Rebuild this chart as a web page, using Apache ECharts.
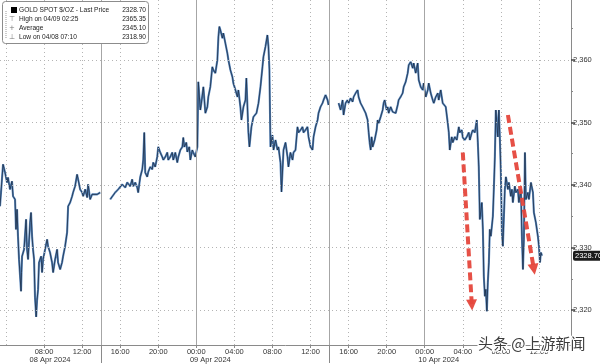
<!DOCTYPE html>
<html><head><meta charset="utf-8">
<script src="https://cdn.jsdelivr.net/npm/echarts@6/dist/echarts.min.js"></script>
<style>html,body{margin:0;padding:0;background:#fff}#c{width:600px;height:364px}</style>
</head><body><div id="c"></div>
<script>
// hours since 2024-04-08 00:00 and GOLD SPOT prices, one pair of arrays per session
const s1Hours = [3.37,3.69,3.90,4.11,4.21, 4.42,4.63,4.74,4.95,5.05, 5.16,5.26,5.37,5.58,5.63, 5.69,5.90,6.11,6.21,6.32,
  6.53,6.63,6.74,6.84,6.95, 7.05,7.17,7.26,7.37,7.47, 7.69,7.79,7.90,8.11,8.32, 8.42,8.63,8.84,8.95,9.16,
  9.37,9.47,9.69,9.89,10.00, 10.21,10.42,10.53,10.74,10.95, 11.05,11.26,11.47,11.58,11.79, 12.00,12.11,12.32,12.53,12.63,
  12.84,13.05,13.16,13.58,13.90];
const s1Prices = [2336.6,2343.3,2342.0,2340.4,2341.2, 2339.3,2340.6,2338.2,2337.7,2332.9, 2336.1,2331.8,2328.1,2323.0,2326.0, 2328.6,2329.7,2334.5,2329.7,2328.1,
  2334.0,2335.6,2331.8,2329.7,2328.1, 2322.0,2318.9,2321.5,2323.3,2327.6, 2328.6,2326.0,2328.1,2329.7,2331.3, 2330.2,2329.2,2327.6,2326.0,2328.1,
  2329.7,2327.6,2326.5,2327.6,2328.6, 2330.2,2332.4,2336.6,2337.2,2338.2, 2338.8,2339.8,2341.7,2340.9,2339.3, 2338.8,2338.2,2339.3,2338.0,2340.1,
  2337.7,2338.5,2338.8,2338.5,2338.8];
const s2Hours = [14.95,15.16,15.47,15.79,16.21, 16.53,16.74,17.05,17.26,17.37, 17.58,17.79,17.89,18.11,18.32, 18.42,18.53,18.63,18.84,18.95,
  19.16,19.37,19.47,19.68,19.89, 20.00,20.21,20.42,20.53,20.74, 20.95,21.05,21.26,21.47,21.58, 21.79,22.00,22.11,22.32,22.53,
  22.63,22.74,22.95,23.05,23.26, 23.37,23.58,23.68,23.89,24.11, 24.21,24.42,24.53,24.74,24.95, 25.16,25.26,25.47,25.68,25.79,
  26.00,26.21,26.32,26.42,26.53, 26.74,26.84,27.05,27.26,27.37, 27.58,27.79,27.89,28.11,28.32, 28.42,28.63,28.74,28.95,29.16,
  29.26,29.47,29.58,29.79,30.00, 30.32,30.53,30.74,30.95,31.05, 31.26,31.47,31.58,31.68,31.79, 32.00,32.11,32.32,32.53,32.63,
  32.84,32.95,33.16,33.37,33.58, 33.68,33.89,34.11,34.21,34.42, 34.63,34.74,34.95,35.16,35.26, 35.47,35.68,35.79,36.00,36.21,
  36.32,36.53,36.74,36.84,37.05, 37.26,37.37,37.58,37.79,37.89];
const s2Prices = [2337.7,2338.0,2338.8,2339.3,2340.1, 2339.6,2340.4,2339.8,2340.9,2339.8, 2340.4,2339.6,2338.8,2341.3,2342.5, 2344.0,2348.4,2342.0,2341.3,2342.1,
  2342.9,2342.5,2343.6,2342.9,2344.5, 2346.1,2345.2,2344.5,2344.0,2344.5, 2345.2,2344.0,2344.5,2345.2,2344.0, 2345.2,2343.6,2344.5,2345.6,2346.1,
  2347.6,2346.1,2346.8,2345.3,2346.1, 2344.0,2345.6,2345.2,2344.5,2346.1, 2356.5,2352.0,2353.1,2355.7,2351.5, 2352.5,2354.1,2355.7,2358.9,2358.4,
  2357.9,2360.0,2363.7,2365.35,2364.8, 2363.5,2364.3,2362.7,2361.1,2360.0, 2358.4,2357.3,2356.3,2355.2,2354.1, 2355.2,2352.5,2350.4,2352.5,2353.6,
  2357.1,2348.4,2346.1,2349.3,2350.9, 2351.5,2353.1,2355.7,2358.9,2360.5, 2362.1,2364.0,2362.1,2358.4,2346.1, 2348.0,2345.6,2347.2,2345.6,2346.1,
  2343.6,2338.9,2345.6,2346.8,2344.5, 2342.9,2345.2,2344.0,2345.2,2345.6, 2349.3,2348.4,2348.8,2349.3,2348.4, 2348.8,2349.3,2347.7,2346.1,2345.6,
  2347.7,2349.3,2350.4,2351.5,2352.5, 2353.1,2353.6,2354.4,2353.6,2352.8];
const s3Hours = [38.95,39.16,39.37,39.47,39.68, 39.89,40.00,40.21,40.42,40.53, 40.74,40.95,41.05,41.26,41.47, 41.58,41.79,42.00,42.11,42.21,
  42.32,42.42,42.53,42.74,42.95, 43.05,43.16,43.37,43.58,43.68, 43.79,44.00,44.11,44.21,44.42, 44.63,44.74,44.95,45.16,45.26,
  45.47,45.68,45.79,46.00,46.21, 46.32,46.53,46.74,46.84,47.05, 47.26,47.37,47.58,47.79,47.89, 48.11,48.32,48.42,48.63,48.84,
  48.95,49.16,49.37,49.47,49.68, 49.89,50.21,50.42,50.53,50.63, 50.84,50.95,51.16,51.37,51.58, 51.68,51.89,52.00,52.21,52.42,
  52.63,52.74,52.95,53.05,53.26, 53.47,53.58,53.68,53.79,54.00, 54.11,54.21,54.32,54.42,54.53, 54.63,54.74,54.84,54.95,55.16,
  55.26,55.37,55.47,55.58,55.68, 55.79,55.89,56.00,56.11,56.21, 56.32,56.42,56.53,56.63,56.74, 56.84,57.05,57.16,57.26,57.47,
  57.58,57.79,57.89,58.11,58.21, 58.32,58.42,58.53,58.63,58.84, 58.95,59.16,59.37,59.47,59.68, 59.89,60.00,60.11,60.21,60.32];
const s3Prices = [2353.1,2352.0,2353.6,2351.2,2353.1, 2353.6,2353.1,2353.9,2353.3,2354.1, 2354.7,2355.2,2354.1,2353.1,2352.5, 2352.3,2351.5,2350.4,2348.4,2346.8,
  2345.6,2347.7,2346.1,2347.2,2348.8, 2350.4,2349.9,2350.9,2352.0,2353.1, 2353.6,2352.0,2352.5,2351.5,2352.5, 2351.7,2352.0,2351.5,2352.8,2353.6,
  2354.1,2354.7,2355.7,2356.5,2357.9, 2359.2,2359.7,2358.7,2359.5,2357.9, 2359.5,2356.8,2355.7,2355.2,2356.3, 2354.1,2355.2,2356.3,2354.7,2353.6,
  2353.1,2354.1,2354.7,2353.6,2355.2, 2353.1,2352.5,2349.9,2348.4,2345.6, 2347.7,2346.8,2347.7,2347.2,2349.3, 2348.4,2348.8,2347.6,2347.2,2347.7,
  2348.4,2347.2,2348.4,2348.8,2348.4, 2350.4,2346.8,2342.9,2334.5,2337.2, 2332.9,2325.4,2322.2,2323.3,2319.8, 2324.4,2327.6,2332.9,2331.8,2335.0,
  2339.3,2344.5,2352.0,2349.9,2347.7, 2352.0,2347.7,2342.0,2332.4,2330.2, 2335.0,2339.3,2341.3,2340.4,2339.3, 2340.4,2338.2,2339.3,2337.2,2339.8,
  2338.8,2339.3,2337.2,2339.3,2331.8, 2326.5,2331.3,2345.2,2337.7,2338.8, 2337.7,2340.4,2338.8,2335.6,2334.0, 2331.8,2330.2,2327.6,2329.2,2328.7];

const timeTicks = [8,12,16,20,24,28,32,36,40,44,48,52,56,60];
const dottedTimeGrid = [4,8,12,16,20,28,32,36,40,44,52,56,60];
const solidTimeGrid = [14,24,38,48];
const sessionBreaks = [14,38];
const dateLabelHours = [8.63,25.47,49.47];
const dateLabels = ['08 Apr 2024','09 Apr 2024','10 Apr 2024'];
const priceTicks = [2320,2330,2340,2350,2360];
const minorPriceTicks = [2315,2325,2335,2345,2355,2365];
const lastPrice = 2328.70;
const legendLabels = ['GOLD SPOT $/OZ - Last Price','High on 04/09 02:25','Average','Low on 04/08 07:10'];
const legendValues = ['2328.70','2365.35','2345.10','2318.90'];
const arrowStarts = [[52.00,2345.2],[56.74,2351.2]];
const arrowEnds = [[52.95,2320.8],[59.47,2326.5]];

const X_MIN = 3.37, X_MAX = 63.37, Y_MIN = 2314.4, Y_MAX = 2369.6;

const sessions = [[s1Hours,s1Prices],[s2Hours,s2Prices],[s3Hours,s3Prices]];
const lineData = [];
sessions.forEach((s,i)=>{
  if(i>0){ lineData.push([(sessions[i-1][0][sessions[i-1][0].length-1]+s[0][0])/2,'-']); }
  s[0].forEach((h,j)=>lineData.push([h,s[1][j]]));
});

const FONT = 'Liberation Sans';
const pad2 = n => (n<10?'0':'')+n;

const gridLines = [];
priceTicks.forEach(v=>gridLines.push({yAxis:v,lineStyle:{color:'#b4b4b4',type:[1,3],width:1}}));
dottedTimeGrid.forEach(v=>gridLines.push({xAxis:v,lineStyle:{color:'#b4b4b4',type:[1,3],width:1}}));
solidTimeGrid.forEach(v=>gridLines.push({xAxis:v,lineStyle:{color:'#a6a6a6',type:'solid',width:1}}));

const legendGraphics = [{type:'rect',shape:{x:2.5,y:1.5,width:146,height:42,r:3},style:{fill:'#fff',stroke:'#8c8c8c',lineWidth:1},z:100}];
const rowY = [10,19.5,28.5,37.5];
legendLabels.forEach((t,i)=>{
  legendGraphics.push({type:'text',x:19,y:rowY[i],style:{text:t,fill:'#222',font:'6.6px "'+FONT+'"',textVerticalAlign:'middle'},z:101});
  legendGraphics.push({type:'text',x:146,y:rowY[i],style:{text:legendValues[i],fill:'#222',font:'6.6px "'+FONT+'"',textAlign:'right',textVerticalAlign:'middle'},z:101});
});
legendGraphics.push({type:'rect',shape:{x:11,y:7,width:6,height:6},style:{fill:'#000'},z:101});
legendGraphics.push({type:'line',shape:{x1:6,y1:11,x2:6,y2:38},style:{stroke:'#999',lineDash:[1,1],lineWidth:1},z:101});
['⊤','+','⊥'].forEach((g,i)=>legendGraphics.push({type:'text',x:12,y:rowY[i+1],style:{text:g,fill:'#777',font:'7px "DejaVu Sans"',textAlign:'center',textVerticalAlign:'middle'},z:101}));

const chart = echarts.init(document.getElementById('c'),null,{renderer:'canvas'});
chart.setOption({
  animation:false,
  backgroundColor:'#fff',
  grid:{left:0,right:29,top:0,bottom:18,containLabel:false},
  xAxis:[
    {type:'value',min:X_MIN,max:X_MAX,position:'bottom',
     axisLine:{show:true,lineStyle:{color:'#8a8a8a'}},
     axisTick:{show:true,customValues:timeTicks,length:3,lineStyle:{color:'#8a8a8a'}},
     axisLabel:{customValues:timeTicks,formatter:v=>pad2(v%24)+':00',fontSize:7.5,color:'#333',margin:3,fontFamily:FONT},
     splitLine:{show:false}},
    {type:'value',min:X_MIN,max:X_MAX,position:'bottom',
     axisLine:{show:false},
     axisTick:{show:true,customValues:sessionBreaks,length:18,lineStyle:{color:'#8a8a8a'}},
     axisLabel:{customValues:dateLabelHours,formatter:v=>dateLabels[dateLabelHours.indexOf(v)]||'',fontSize:7.5,color:'#333',margin:11,fontFamily:FONT},
     splitLine:{show:false}}
  ],
  yAxis:[
    {type:'value',min:Y_MIN,max:Y_MAX,position:'right',
     axisLine:{show:true,lineStyle:{color:'#8a8a8a'}},
     axisTick:{show:true,customValues:priceTicks,length:4,lineStyle:{color:'#444',width:1.5}},
     axisLabel:{customValues:priceTicks,fontSize:7.5,color:'#333',margin:2,fontFamily:FONT},
     splitLine:{show:false}},
    {type:'value',min:Y_MIN,max:Y_MAX,position:'right',
     axisLine:{show:false},
     axisTick:{show:true,customValues:minorPriceTicks,length:2,lineStyle:{color:'#888'}},
     axisLabel:{show:false},splitLine:{show:false}}
  ],
  series:[
    {type:'line',data:[],z:1,silent:true,
     markLine:{silent:true,symbol:'none',label:{show:false},data:gridLines,animation:false}},
    {type:'line',data:lineData,showSymbol:false,connectNulls:false,z:2,silent:true,
     lineStyle:{color:'#5a89bf',width:2.1}},
    {type:'line',data:lineData,showSymbol:false,connectNulls:false,z:3,silent:true,
     lineStyle:{color:'#1d2d45',width:0.8}},
    {type:'line',data:[],z:6,silent:true,
     markLine:{silent:true,symbol:'none',animation:false,
       data:[{yAxis:lastPrice,lineStyle:{color:'rgba(0,0,0,0)',width:0},
         label:{show:true,position:'end',formatter:lastPrice.toFixed(2),backgroundColor:'#1a1a1a',color:'#fff',
                fontSize:7.5,fontFamily:FONT,padding:[1,2,1,2],distance:2,borderRadius:2}}]}},
    {type:'line',data:[],z:5,silent:true,
     markLine:{silent:true,animation:false,symbol:['none','triangle'],symbolSize:[11,11],
       label:{show:false},
       lineStyle:{color:'#e5473c',width:4,type:[8,4],opacity:0.95},
       itemStyle:{color:'#e5473c'},
       data:arrowStarts.map((s,i)=>[{coord:s},{coord:arrowEnds[i]}])}}
  ],
  graphic:legendGraphics.concat([
    {type:'text',x:478,y:336,z:120,style:{text:'头条 @上游新闻',font:'15px "Noto Sans CJK SC"',fill:'#3c3c3c',stroke:'#fff',lineWidth:2.5,strokeFirst:true}}
  ])
});
</script></body></html>
